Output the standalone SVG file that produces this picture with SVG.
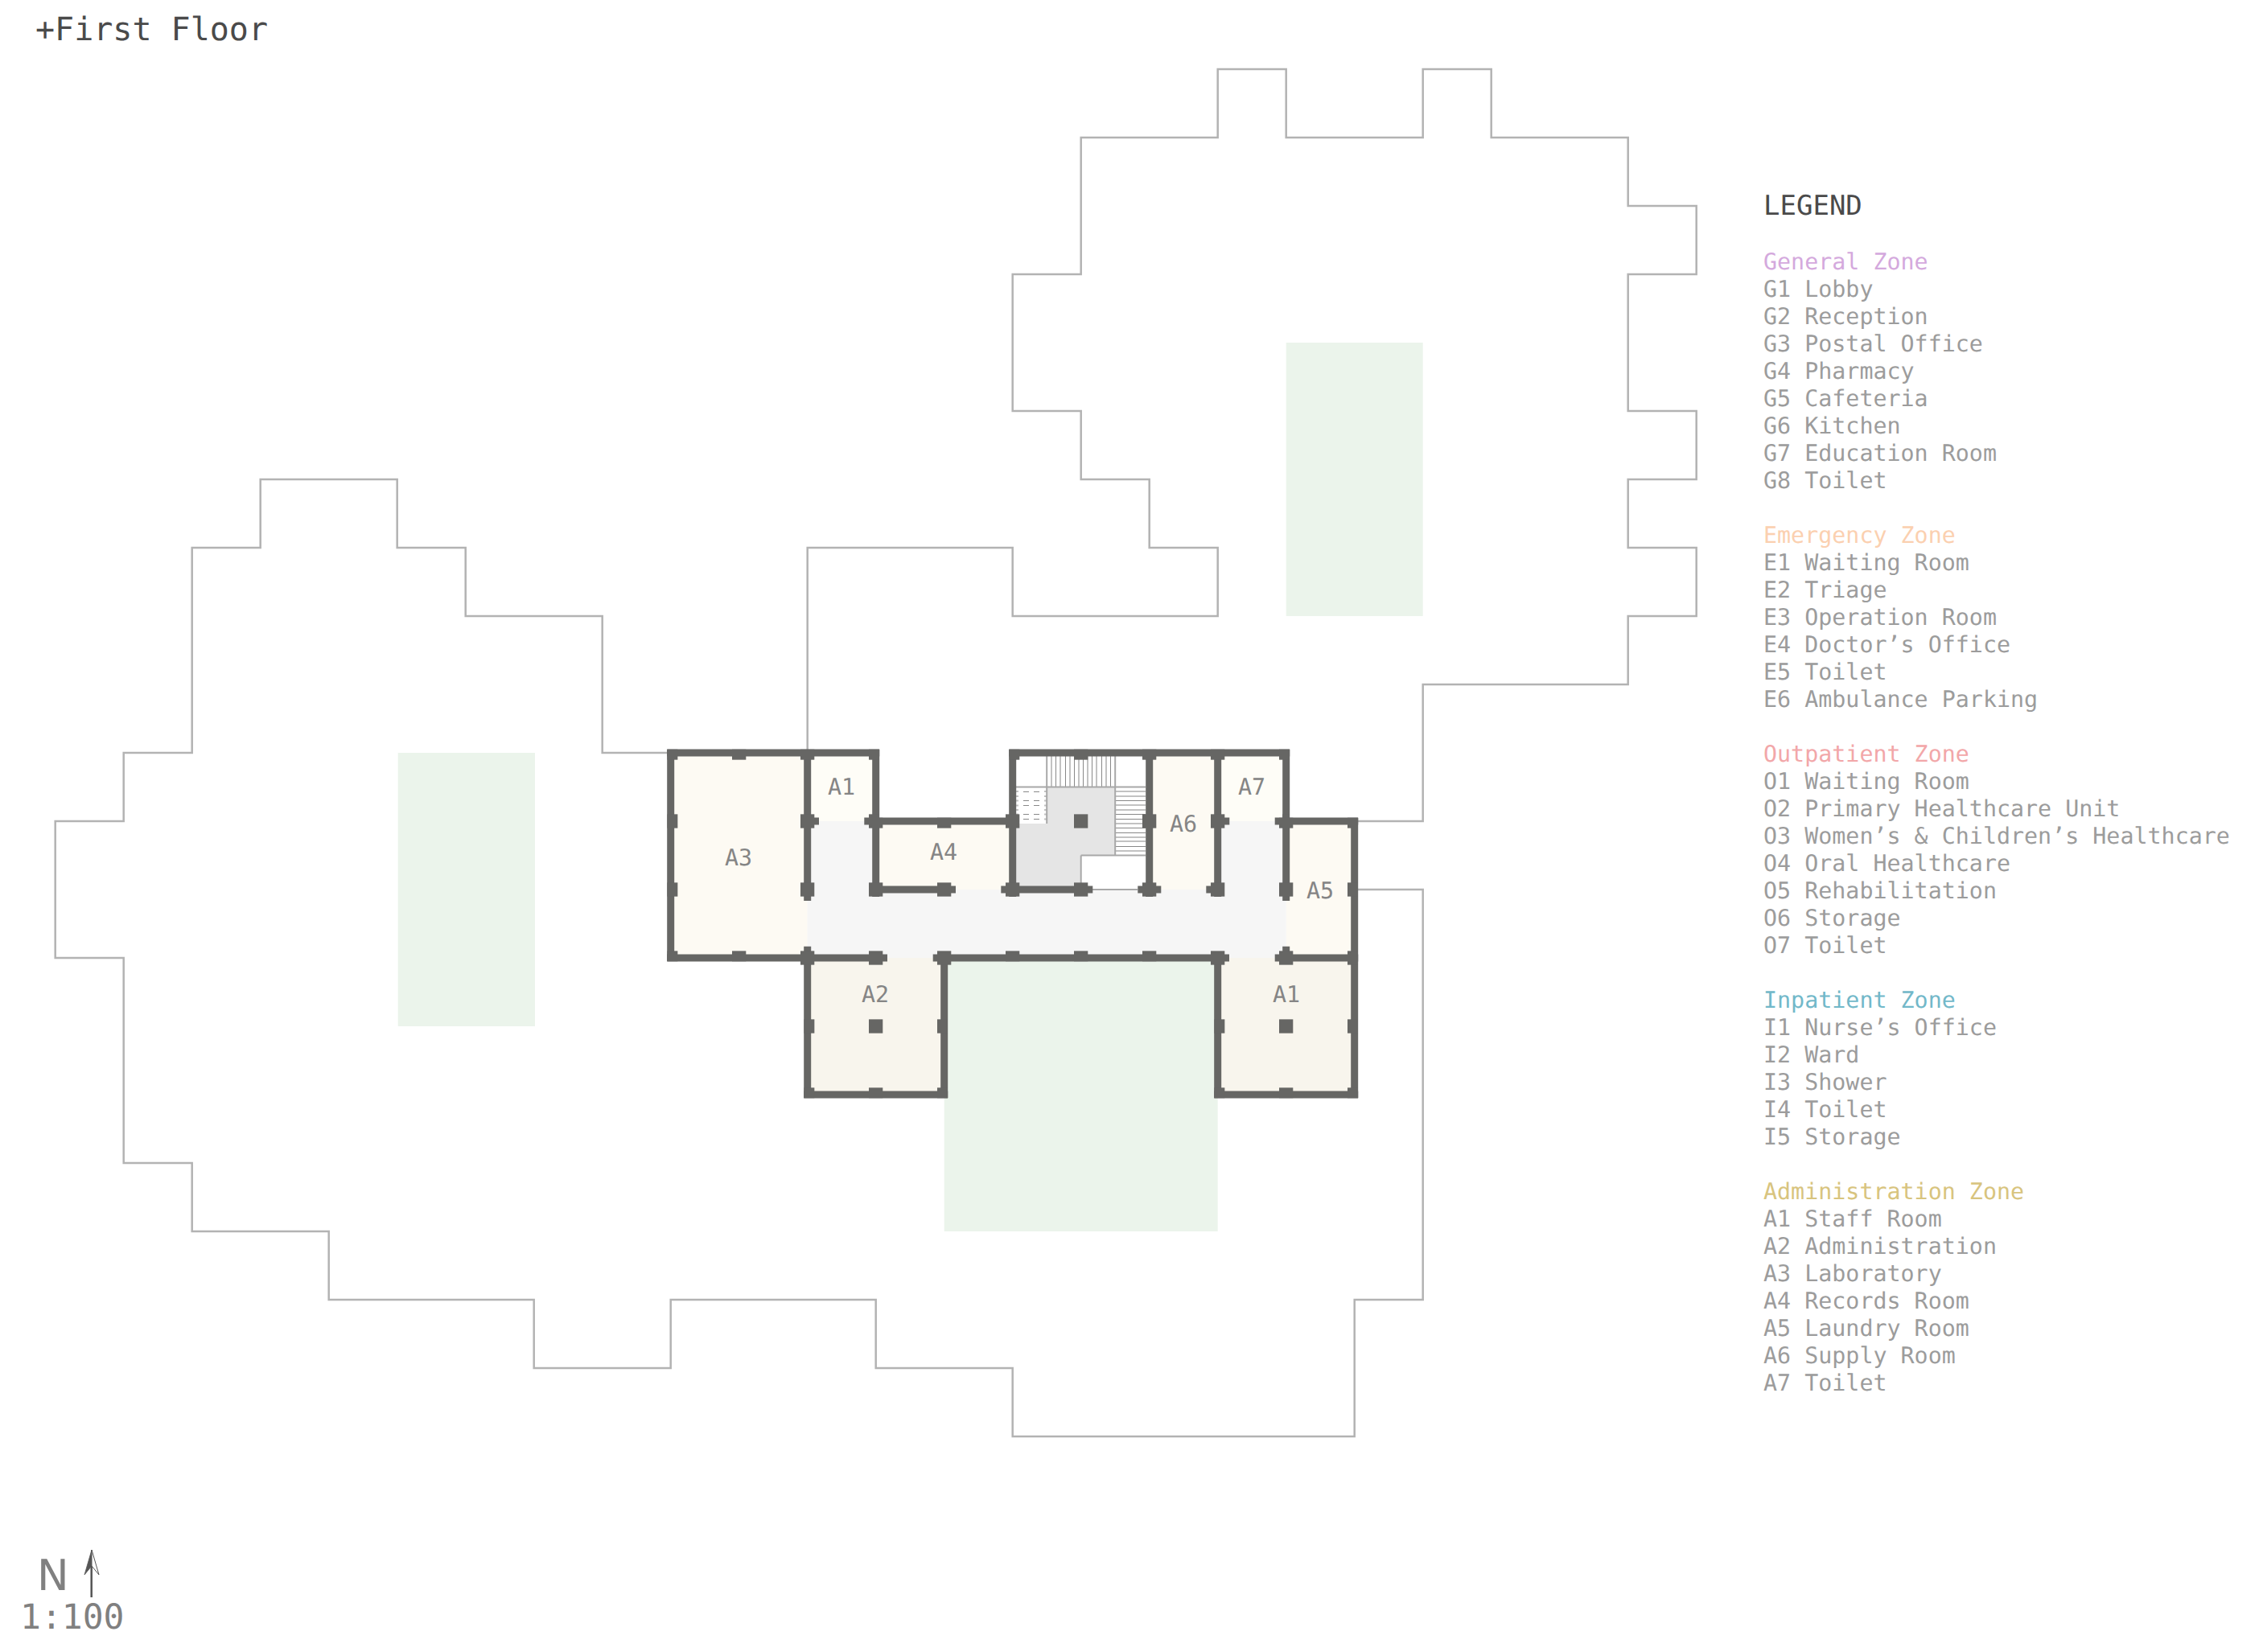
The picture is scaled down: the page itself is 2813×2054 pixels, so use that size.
<svg xmlns="http://www.w3.org/2000/svg" width="2813" height="2054" viewBox="0 0 2813 2054">
<style>
text{font-family:"DejaVu Sans Mono","Liberation Mono",monospace;text-rendering:geometricPrecision}
.leg{font-size:28.33px;fill:#9c9c9c}
.rm{font-size:28.33px;fill:#858585;text-anchor:middle}
.c{fill:#666664}
.w{fill:none;stroke:#666664;stroke-width:9}
.o{fill:none;stroke:#b3b3b3;stroke-width:2.5}
.e{fill:none;stroke:#a8a8a8;stroke-width:2}
.d{fill:none;stroke:#888;stroke-width:1}
.l{fill:none;stroke:#c2c2c2;stroke-width:2}
.g{fill:#ebf4eb}
.a{fill:#fdfaf3}
.t{fill:#fefdf7}
.b{fill:#f8f5ed}
.f{fill:#f6f6f6}
</style>
<rect width="2813" height="2054" fill="#fff"/>
<g id="site-outline">
<path class="o" d="M1003.7 936V681H1258.7V766H1513.7V681H1428.7V596H1343.7V511H1258.7V341H1343.7V171H1513.7V86H1598.7V171H1768.7V86H1853.7V171H2023.7V256H2108.7V341H2023.7V511H2108.7V596H2023.7V681H2108.7V766H2023.7V851H1768.7V1021H1683.7M1683.7 1106H1768.7V1616H1683.7V1786H1258.7V1701H1088.7V1616H833.7V1701H663.7V1616H408.7V1531H238.7V1446H153.7V1191H68.7V1021H153.7V936H238.7V681H323.7V596H493.7V681H578.7V766H748.7V936H833.7"/>
</g>
<g id="courtyards">
<rect class="g" x="494.7" y="936" width="170.3" height="340"/>
<rect class="g" x="1598.7" y="426" width="170" height="340"/>
<rect class="g" x="1173.7" y="1191" width="340" height="340"/>
</g>
<g id="floors">
<rect class="a" x="833.7" y="936" width="170" height="255"/>
<rect class="t" x="1003.7" y="936" width="85" height="85"/>
<rect class="a" x="1088.7" y="1021" width="170" height="85"/>
<rect class="a" x="1428.7" y="936" width="85" height="170"/>
<rect class="t" x="1513.7" y="936" width="85" height="85"/>
<rect class="a" x="1598.7" y="1021" width="85" height="170"/>
<path class="f" d="M1003.7 1021H1088.7V1106H1513.7V1021H1598.7V1191H1003.7Z"/>
<rect class="b" x="1003.7" y="1191" width="170" height="170"/>
<rect class="b" x="1513.7" y="1191" width="170" height="170"/>
<path d="M1301.2 978.5H1386.2V1063.5H1343.7V1106H1258.7V1024H1301.2Z" fill="#e5e5e5"/>
</g>
<g id="stairs">
<path class="l" d="M1307 940V978M1318 940V978M1330 940V978M1341 940V978M1352 940V978M1363 940V978M1375 940V978"/>
<path class="d" d="M1312.5 940V978M1324.5 940V978M1335.5 940V978M1346.5 940V978M1357.5 940V978M1369.5 940V978M1380.5 940V978"/>
<path class="l" d="M1386 984H1424M1386 990H1424M1386 1001H1424M1386 1007H1424M1386 1024H1424M1386 1041H1424M1386 1046H1424M1386 1058H1424"/>
<path class="d" d="M1386 995.5H1424M1386 1012.5H1424M1386 1018.5H1424M1386 1029.5H1424M1386 1035.5H1424M1386 1052.5H1424"/>
<path class="l" d="M1263 984H1266M1298 984H1301M1263 990H1266M1298 990H1301M1263 995.5H1266M1298 995.5H1301M1263 1001.5H1266M1298 1001.5H1301M1263 1007H1266M1298 1007H1301M1263 1012.5H1266M1298 1012.5H1301M1263 1018.5H1266M1298 1018.5H1301"/>
<path class="d" stroke-width="1.2" d="M1272 984.5H1279M1285 984.5H1292M1272 995.5H1279M1285 995.5H1292M1272 1001.5H1279M1285 1001.5H1292M1272 1012.5H1279M1285 1012.5H1292M1272 1018.5H1279M1285 1018.5H1292"/>
<path class="e" d="M1262 978.5H1424M1301.2 940V1024M1386.2 940V1063.5M1343.7 1063.5H1424M1343.7 1063.5V1100M1358 1106H1414"/>
</g>
<g id="walls">
<path class="w" d="M829.2 936H1093.2M1254.2 936H1603.2M1084 1021H1262M1594 1021H1688.2M1003.7 1021H1018M1074.3 1021H1088.7M1513.7 1021H1528.3M1584.7 1021H1598.7M1088.7 1106H1188M1244.3 1106H1358.3M1414.3 1106H1443.3M1499.3 1106H1513.7M829.2 1191H1103M1159.7 1191H1528M1584.7 1191H1688.2M999.2 1361H1178.2M1509.2 1361H1688.2"/>
<path class="w" d="M833.7 932V1195M1003.7 932V1120M1003.7 1176.7V1365M1088.7 932V1115M1258.7 932V1115M1428.7 932V1115M1513.7 932V1115M1513.7 1191V1365M1598.7 932V1120M1598.7 1176.7V1199M1683.7 1017V1365M1173.7 1191V1365"/>
</g>
<g id="columns">
<g class="c">
<rect x="829.45" y="931.75" width="12.9" height="12.9"/>
<rect x="910" y="931.75" width="17.3" height="12.9"/>
<rect x="995" y="931.75" width="17.3" height="12.9"/>
<rect x="1080" y="931.75" width="12.95" height="12.9"/>
<rect x="1254.45" y="931.75" width="12.85" height="12.9"/>
<rect x="1335" y="931.75" width="17.3" height="12.9"/>
<rect x="1420" y="931.75" width="17.3" height="12.9"/>
<rect x="1505" y="931.75" width="17.3" height="12.9"/>
<rect x="1590" y="931.75" width="12.95" height="12.9"/>
<rect x="829.45" y="1012.35" width="12.9" height="17.3"/>
<rect x="995" y="1012.35" width="17.3" height="17.3"/>
<rect x="1080" y="1012.35" width="12.95" height="17.3"/>
<rect x="1092" y="1016.75" width="5.3" height="12.9"/>
<rect x="1165" y="1016.75" width="17.3" height="12.9"/>
<rect x="1250" y="1012.35" width="17.3" height="17.3"/>
<rect x="1335" y="1012.35" width="17.3" height="17.3"/>
<rect x="1420" y="1012.35" width="17.3" height="17.3"/>
<rect x="1505" y="1012.35" width="17.3" height="17.3"/>
<rect x="1594.25" y="1012.35" width="8.7" height="17.3"/>
<rect x="1590" y="1016.75" width="17.3" height="12.9"/>
<rect x="1675" y="1016.75" width="12.95" height="12.9"/>
<rect x="829.45" y="1097.35" width="12.9" height="17.3"/>
<rect x="995" y="1097.35" width="17.3" height="17.3"/>
<rect x="1080" y="1097.35" width="17.3" height="17.3"/>
<rect x="1165" y="1097.35" width="17.3" height="17.3"/>
<rect x="1250" y="1097.35" width="17.3" height="17.3"/>
<rect x="1335" y="1097.35" width="17.3" height="17.3"/>
<rect x="1420" y="1097.35" width="17.3" height="17.3"/>
<rect x="1505" y="1097.35" width="17.3" height="17.3"/>
<rect x="1590" y="1097.35" width="17.3" height="17.3"/>
<rect x="1675" y="1097.35" width="12.95" height="17.3"/>
<rect x="829.45" y="1182.35" width="12.9" height="12.9"/>
<rect x="910" y="1182.35" width="17.3" height="12.9"/>
<rect x="995" y="1182.35" width="17.3" height="17.3"/>
<rect x="1080" y="1182.35" width="17.3" height="17.3"/>
<rect x="1165" y="1182.35" width="17.3" height="17.3"/>
<rect x="1250" y="1182.35" width="17.3" height="12.9"/>
<rect x="1335" y="1182.35" width="17.3" height="12.9"/>
<rect x="1420" y="1182.35" width="17.3" height="12.9"/>
<rect x="1505" y="1182.35" width="17.3" height="17.3"/>
<rect x="1590" y="1182.35" width="17.3" height="17.3"/>
<rect x="1675" y="1182.35" width="12.95" height="17.3"/>
<rect x="999.45" y="1267.35" width="12.9" height="17.3"/>
<rect x="1080" y="1267.35" width="17.3" height="17.3"/>
<rect x="1165" y="1267.35" width="12.95" height="17.3"/>
<rect x="1509.45" y="1267.35" width="12.9" height="17.3"/>
<rect x="1590" y="1267.35" width="17.3" height="17.3"/>
<rect x="1675" y="1267.35" width="12.95" height="17.3"/>
<rect x="999.45" y="1352.35" width="12.9" height="12.9"/>
<rect x="1080" y="1352.35" width="17.3" height="12.9"/>
<rect x="1165" y="1352.35" width="12.95" height="12.9"/>
<rect x="1509.45" y="1352.35" width="12.9" height="12.9"/>
<rect x="1590" y="1352.35" width="17.3" height="12.9"/>
<rect x="1675" y="1352.35" width="12.95" height="12.9"/>
</g>
</g>
<g id="room-labels">
<text class="rm" x="918" y="1076">A3</text>
<text class="rm" x="1046" y="988">A1</text>
<text class="rm" x="1173" y="1069">A4</text>
<text class="rm" x="1556" y="988">A7</text>
<text class="rm" x="1471" y="1034">A6</text>
<text class="rm" x="1641" y="1117">A5</text>
<text class="rm" x="1088" y="1246">A2</text>
<text class="rm" x="1599" y="1246">A1</text>
</g>
<g id="title"><text x="44" y="50" font-size="40" fill="#4a4a4a">+First Floor</text></g>
<g id="north">
<text x="46" y="1977" font-size="53" fill="#808080" style="font-family:'DejaVu Sans',sans-serif">N</text>
<path d="M113.7 1945V1986" stroke="#555" stroke-width="2.5" fill="none"/>
<path d="M114 1927L105 1958L114 1947Z" fill="#555" stroke="#555" stroke-width=".8"/>
<path d="M114 1927L123 1958L114 1947Z" fill="#fff" stroke="#555" stroke-width="1"/>
<text x="25" y="2025" font-size="43" fill="#808080">1:100</text>
</g>
<g id="legend">
<text x="2192" y="266.5" font-size="34" fill="#4a4a4a">LEGEND</text>
<text class="leg" x="2192" y="334.5" style="fill:#d4a9dd">General Zone</text>
<text class="leg" x="2192" y="368.5">G1 Lobby</text>
<text class="leg" x="2192" y="402.5">G2 Reception</text>
<text class="leg" x="2192" y="436.5">G3 Postal Office</text>
<text class="leg" x="2192" y="470.5">G4 Pharmacy</text>
<text class="leg" x="2192" y="504.5">G5 Cafeteria</text>
<text class="leg" x="2192" y="538.5">G6 Kitchen</text>
<text class="leg" x="2192" y="572.5">G7 Education Room</text>
<text class="leg" x="2192" y="606.5">G8 Toilet</text>
<text class="leg" x="2192" y="674.5" style="fill:#fbd0b0">Emergency Zone</text>
<text class="leg" x="2192" y="708.5">E1 Waiting Room</text>
<text class="leg" x="2192" y="742.5">E2 Triage</text>
<text class="leg" x="2192" y="776.5">E3 Operation Room</text>
<text class="leg" x="2192" y="810.5">E4 Doctor’s Office</text>
<text class="leg" x="2192" y="844.5">E5 Toilet</text>
<text class="leg" x="2192" y="878.5">E6 Ambulance Parking</text>
<text class="leg" x="2192" y="946.5" style="fill:#f2a7a9">Outpatient Zone</text>
<text class="leg" x="2192" y="980.5">O1 Waiting Room</text>
<text class="leg" x="2192" y="1014.5">O2 Primary Healthcare Unit</text>
<text class="leg" x="2192" y="1048.5">O3 Women’s &amp; Children’s Healthcare</text>
<text class="leg" x="2192" y="1082.5">O4 Oral Healthcare</text>
<text class="leg" x="2192" y="1116.5">O5 Rehabilitation</text>
<text class="leg" x="2192" y="1150.5">O6 Storage</text>
<text class="leg" x="2192" y="1184.5">O7 Toilet</text>
<text class="leg" x="2192" y="1252.5" style="fill:#72b8c9">Inpatient Zone</text>
<text class="leg" x="2192" y="1286.5">I1 Nurse’s Office</text>
<text class="leg" x="2192" y="1320.5">I2 Ward</text>
<text class="leg" x="2192" y="1354.5">I3 Shower</text>
<text class="leg" x="2192" y="1388.5">I4 Toilet</text>
<text class="leg" x="2192" y="1422.5">I5 Storage</text>
<text class="leg" x="2192" y="1490.5" style="fill:#d8c47e">Administration Zone</text>
<text class="leg" x="2192" y="1524.5">A1 Staff Room</text>
<text class="leg" x="2192" y="1558.5">A2 Administration</text>
<text class="leg" x="2192" y="1592.5">A3 Laboratory</text>
<text class="leg" x="2192" y="1626.5">A4 Records Room</text>
<text class="leg" x="2192" y="1660.5">A5 Laundry Room</text>
<text class="leg" x="2192" y="1694.5">A6 Supply Room</text>
<text class="leg" x="2192" y="1728.5">A7 Toilet</text>
</g>
</svg>
